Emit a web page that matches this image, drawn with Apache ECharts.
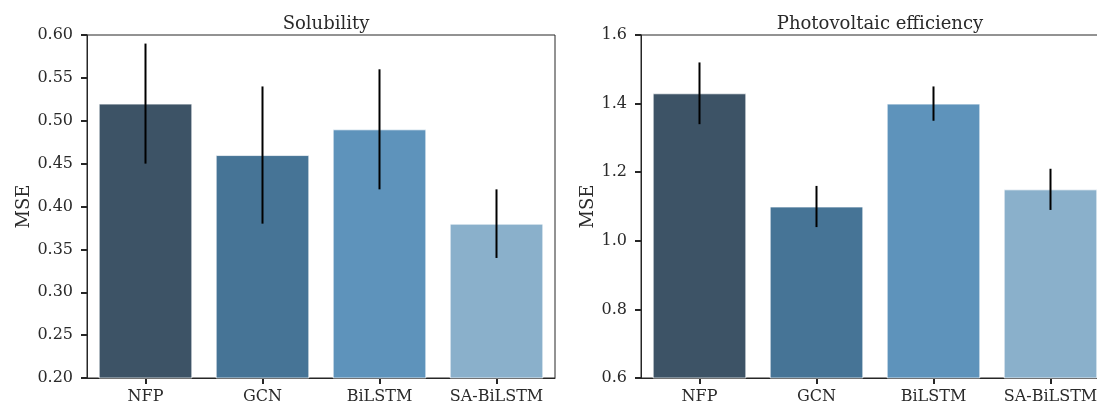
<!DOCTYPE html>
<html>
<head>
<meta charset="utf-8">
<script src="https://cdn.jsdelivr.net/npm/echarts@6/dist/echarts.min.js"></script>
<style>
  html, body { margin: 0; padding: 0; background: #fff; }
  #chart { width: 1097px; height: 408px; }
</style>
</head>
<body>
<div id="chart"></div>
<script>
const categories = ['NFP', 'GCN', 'BiLSTM', 'SA-BiLSTM']
const barColors = ['#3d5366', '#467496', '#5e93bb', '#8ab0cb']

// Solubility
const solMean = [0.52, 0.46, 0.49, 0.38]
const solLow = [0.45, 0.38, 0.42, 0.34]
const solHigh = [0.59, 0.54, 0.56, 0.42]

// Photovoltaic efficiency
const pvMean = [1.43, 1.10, 1.40, 1.15]
const pvLow = [1.34, 1.04, 1.35, 1.09]
const pvHigh = [1.52, 1.16, 1.45, 1.21]

const FONT = 'DejaVu Serif'
const TXT = '#2a2a2a'

function xAxis(gi) {
  return {
    type: 'category', gridIndex: gi, data: categories,
    axisLine: { lineStyle: { color: '#262626', width: 1 } },
    axisTick: { show: true, alignWithLabel: true, interval: 0, length: 6, lineStyle: { color: '#262626', width: 2 } },
    axisLabel: { interval: 0, hideOverlap: false, fontFamily: FONT, fontSize: 16, color: TXT, margin: 11 }
  }
}

function yAxis(gi, min, max, step, dec) {
  return {
    type: 'value', gridIndex: gi, min, max, interval: step,
    name: 'MSE', nameLocation: 'middle', nameGap: gi === 0 ? 54 : 42, nameRotate: 90,
    nameTextStyle: { fontFamily: FONT, fontSize: 18, color: TXT },
    axisLine: { show: true, lineStyle: { color: '#262626', width: 1 } },
    axisTick: { show: true, length: 6, lineStyle: { color: '#262626', width: 2 } },
    axisLabel: { fontFamily: FONT, fontSize: 16, color: TXT, margin: 14, formatter: v => v.toFixed(dec) },
    splitLine: { show: false }
  }
}

function bars(gi, vals) {
  return {
    type: 'bar', xAxisIndex: gi, yAxisIndex: gi, barWidth: '80%',
    data: vals.map((v, i) => ({ value: v, itemStyle: { color: barColors[i] } })),
    itemStyle: { borderColor: 'rgba(255,255,255,0.7)', borderWidth: 1 },
    silent: true
  }
}

function errs(gi, lo, hi) {
  return {
    type: 'custom', xAxisIndex: gi, yAxisIndex: gi, silent: true, z: 5,
    data: lo.map((l, i) => [i, l, hi[i]]),
    renderItem: (params, api) => {
      const a = api.coord([api.value(0), api.value(1)])
      const b = api.coord([api.value(0), api.value(2)])
      return { type: 'line', shape: { x1: a[0], y1: a[1], x2: b[0], y2: b[1] },
        style: { stroke: '#000', lineWidth: 2 } }
    }
  }
}

const chart = echarts.init(document.getElementById('chart'))
chart.setOption({
  animation: false,
  title: [
    { text: 'Solubility', left: 321, top: 10, textAlign: 'center',
      textStyle: { fontFamily: FONT, fontSize: 18, fontWeight: 'normal', color: TXT } },
    { text: 'Photovoltaic efficiency', left: 875, top: 10, textAlign: 'center',
      textStyle: { fontFamily: FONT, fontSize: 18, fontWeight: 'normal', color: TXT } }
  ],
  grid: [
    { left: 87, width: 468, top: 35, height: 343, outerBoundsMode: 'none', show: true, borderColor: '#262626', borderWidth: 1 },
    { left: 641, width: 468, top: 35, height: 343, outerBoundsMode: 'none', show: true, borderColor: '#262626', borderWidth: 1 }
  ],
  xAxis: [xAxis(0), xAxis(1)],
  yAxis: [yAxis(0, 0.2, 0.6, 0.05, 2), yAxis(1, 0.6, 1.6, 0.2, 1)],
  series: [bars(0, solMean), errs(0, solLow, solHigh), bars(1, pvMean), errs(1, pvLow, pvHigh)]
})
</script>
</body>
</html>
